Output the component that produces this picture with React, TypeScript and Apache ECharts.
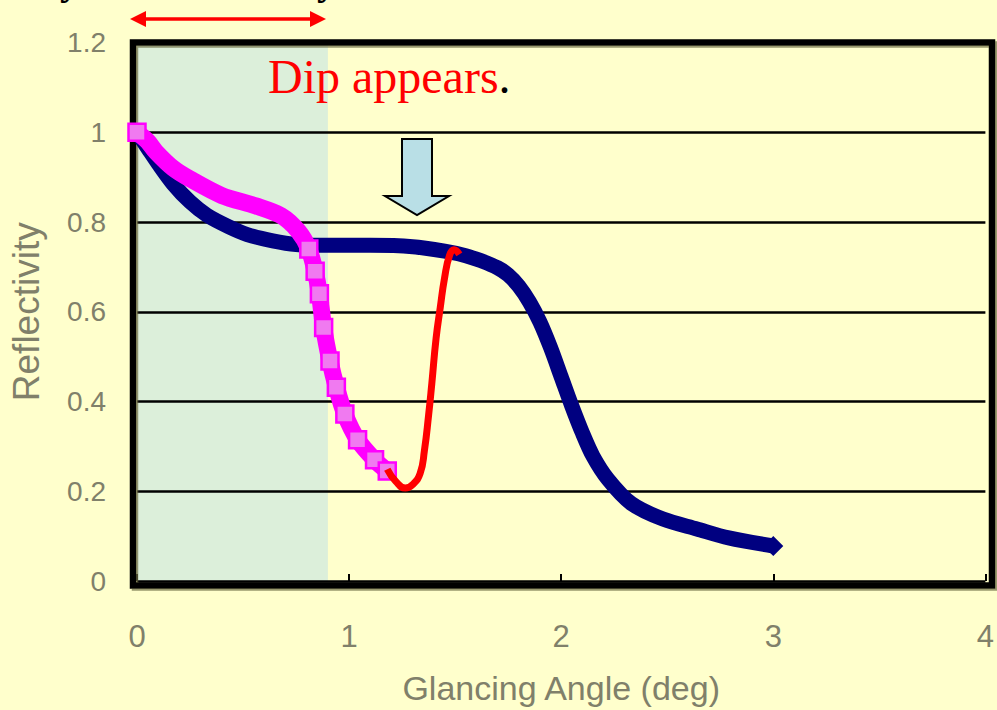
import React, { useEffect, useRef } from "react";
import * as echarts from "echarts";

// Glancing angle (deg) vs reflectivity
const navyAngle = [0, 0.05, 0.1, 0.17, 0.25, 0.33, 0.43, 0.52, 0.64, 0.75, 0.9, 1.1, 1.3, 1.45, 1.55, 1.62, 1.7, 1.75, 1.8, 1.85, 1.9, 1.95, 2.0, 2.05, 2.1, 2.15, 2.22, 2.33, 2.48, 2.64, 2.79, 3.0];
const navyRefl = [1.0, 0.965, 0.93, 0.885, 0.845, 0.815, 0.79, 0.772, 0.758, 0.75, 0.748, 0.748, 0.745, 0.735, 0.725, 0.714, 0.698, 0.682, 0.657, 0.622, 0.577, 0.52, 0.455, 0.39, 0.33, 0.278, 0.227, 0.173, 0.138, 0.116, 0.096, 0.078];

const pinkAngle = [0, 0.05, 0.09, 0.17, 0.25, 0.4, 0.56, 0.68, 0.76, 0.81, 0.84, 0.86, 0.88, 0.91, 0.94, 0.98, 1.04, 1.12, 1.18];
const pinkRefl = [1.0, 0.98, 0.956, 0.92, 0.896, 0.859, 0.836, 0.814, 0.78, 0.74, 0.69, 0.64, 0.565, 0.49, 0.432, 0.372, 0.315, 0.27, 0.245];

const dipAngle = [1.18, 1.22, 1.265, 1.3, 1.335, 1.355, 1.375, 1.39, 1.41, 1.43, 1.45, 1.474, 1.495, 1.52];
const dipRefl = [0.249, 0.222, 0.207, 0.215, 0.24, 0.29, 0.37, 0.44, 0.54, 0.61, 0.675, 0.726, 0.738, 0.728];

const shadedRange = [0, 0.9];
const xTicks = [0, 1, 2, 3, 4];
const yTicks = [0, 0.2, 0.4, 0.6, 0.8, 1.0, 1.2];

const GRID = { left: 133, top: 42.5, right: 5, bottom: 124.5 };
const W = 997;
const H = 710;
const GRAY = "#80806a";

const zip = (a: number[], b: number[]) => a.map((v, i) => [v, b[i]]);

export default function App() {
  const ref = useRef<HTMLDivElement>(null);

  useEffect(() => {
    if (!ref.current) return;
    const chart = echarts.init(ref.current, undefined, { renderer: "svg" });
    const plotW = W - GRID.left - GRID.right;
    const plotH = H - GRID.top - GRID.bottom;

    // navy trace: a solid band, with the diamond marker kept at its end
    const navyData = zip(navyAngle, navyRefl).map((p, i, arr) => ({
      value: p,
      symbol: i === arr.length - 1 ? "diamond" : "none",
    }));
    // magenta trace: square markers at its start and where it drops steeply
    const pinkData = zip(pinkAngle, pinkRefl).map((p, i) => ({
      value: p,
      symbol: i === 0 || p[0] >= 0.8 ? "rect" : "none",
    }));

    chart.setOption({
      animation: false,
      backgroundColor: "#ffffcc",
      grid: { ...GRID, show: false },
      xAxis: {
        type: "value",
        min: xTicks[0],
        max: xTicks[xTicks.length - 1],
        interval: 1,
        z: 1,
        name: "Glancing Angle (deg)",
        nameLocation: "middle",
        nameGap: 90,
        nameTextStyle: { color: GRAY, fontSize: 34, fontFamily: "Liberation Sans" },
        axisLine: { show: false },
        axisTick: { show: true, inside: true, length: 7, lineStyle: { color: "#000", width: 2 } },
        axisLabel: { color: GRAY, fontSize: 31, fontFamily: "Liberation Sans", margin: 40 },
        splitLine: { show: false },
      },
      yAxis: {
        type: "value",
        min: yTicks[0],
        max: yTicks[yTicks.length - 1],
        interval: 0.2,
        z: 1,
        name: "Reflectivity",
        nameLocation: "middle",
        nameGap: 92,
        nameRotate: 90,
        nameTextStyle: { color: GRAY, fontSize: 37, fontFamily: "Liberation Sans" },
        axisLine: { show: false },
        axisTick: { show: false },
        axisLabel: { color: GRAY, fontSize: 28, fontFamily: "Liberation Sans", margin: 31 },
        splitLine: { show: true, lineStyle: { color: "#000", width: 2.5 } },
      },
      series: [
        {
          type: "line",
          data: [],
          z: 0,
          silent: true,
          markArea: {
            z: 0,
            silent: true,
            itemStyle: { color: "#dcefda" },
            data: [[{ xAxis: shadedRange[0] }, { xAxis: shadedRange[1] }]],
          },
        },
        {
          type: "line",
          z: 3,
          data: navyData,
          smooth: 0.3,
          symbolSize: 20,
          showSymbol: true,
          lineStyle: { color: "#000080", width: 15 },
          itemStyle: { color: "#000080" },
        },
        {
          type: "line",
          z: 4,
          data: pinkData,
          smooth: 0.3,
          symbolSize: 17,
          showSymbol: true,
          lineStyle: { color: "#ff00ff", width: 17 },
          itemStyle: { color: "#f07af0", borderColor: "#ff00ff", borderWidth: 2.5 },
        },
        {
          type: "line",
          z: 5,
          data: zip(dipAngle, dipRefl),
          smooth: 0.5,
          showSymbol: false,
          lineStyle: { color: "#ff0000", width: 7 },
        },
      ],
      graphic: {
        elements: [
          {
            type: "rect",
            z: 2,
            silent: true,
            shape: { x: GRID.left, y: GRID.top, width: plotW, height: plotH },
            style: {
              fill: "none",
              stroke: "#000",
              lineWidth: 6.5,
              shadowColor: "rgba(110,110,70,0.7)",
              shadowOffsetX: 2,
              shadowOffsetY: 2,
            },
          },
          // double-headed span arrow
          {
            type: "line",
            z: 10,
            shape: { x1: 144, y1: 19, x2: 313, y2: 19 },
            style: { stroke: "#ff0000", lineWidth: 3.5 },
          },
          {
            type: "polygon",
            z: 10,
            shape: { points: [[130, 19], [146, 11], [146, 27]] },
            style: { fill: "#ff0000" },
          },
          {
            type: "polygon",
            z: 10,
            shape: { points: [[326, 19], [310, 11], [310, 27]] },
            style: { fill: "#ff0000" },
          },
          // down arrow pointing at the dip
          {
            type: "polygon",
            z: 10,
            shape: {
              points: [[402, 139], [432, 139], [432, 196], [449, 196], [417, 215], [385, 196], [402, 196]],
            },
            style: { fill: "#b9dfe6", stroke: "#000", lineWidth: 2 },
          },
          {
            type: "text",
            z: 10,
            left: 268,
            top: 52,
            style: {
              text: "{r|Dip appears}{k|.}",
              rich: {
                r: { fill: "#ff0000", fontSize: 48, fontFamily: "Liberation Serif" },
                k: { fill: "#000", fontSize: 48, fontFamily: "Liberation Serif" },
              },
            },
          },
          {
            type: "text",
            z: 10,
            x: 60,
            y: -40,
            style: { text: "y", fill: "#000", fontSize: 40, fontFamily: "Liberation Serif", fontWeight: "bold" },
          },
          {
            type: "text",
            z: 10,
            x: 317,
            y: -40,
            style: { text: "y", fill: "#000", fontSize: 40, fontFamily: "Liberation Serif", fontWeight: "bold" },
          },
        ],
      },
    });

    return () => chart.dispose();
  }, []);

  return (
    <div
      ref={ref}
      style={{ position: "fixed", left: 0, top: 0, width: W, height: H }}
    />
  );
}
